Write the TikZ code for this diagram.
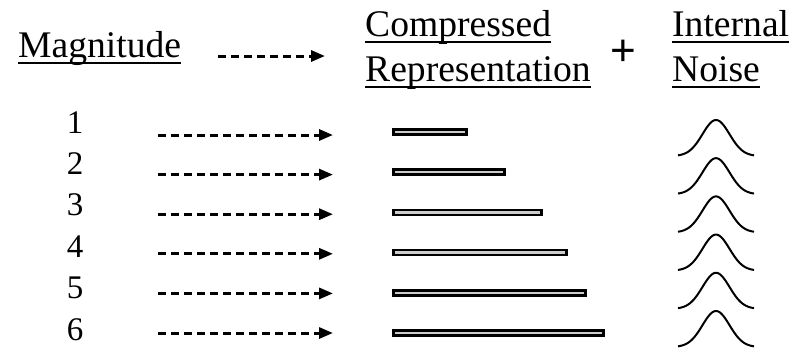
\documentclass[tikz,border=0pt]{standalone}
\usepackage{fontspec}
\setmainfont{Liberation Serif}
\newfontfamily\plusfont{Liberation Sans}
\usetikzlibrary{calc,arrows.meta}
\begin{document}
\begin{tikzpicture}[x=1pt,y=-1pt,
 hdr/.style={inner sep=0pt, anchor=base west, font=\fontsize{37.6}{40}\selectfont},
 num/.style={inner sep=0pt, anchor=base, font=\fontsize{33}{35}\selectfont},
 uline/.style={line width=2.2pt},
 darrow/.style={line width=3pt, dash pattern=on 8pt off 5pt, -{Triangle[length=14pt,width=11pt]}},
 bar/.style={draw, line width=2.6pt, fill=gray!40},
 bell/.style={line width=2pt, line join=round}]
\useasboundingbox (0,0) rectangle (791,349);

% headers
\node[hdr] (mag) at (18,57) {Magnitude};
\node[hdr] (comp) at (365,36) {Compressed};
\node[hdr] (repr) at (365,81) {Representation};
\node[hdr] (intl) at (672,36) {Internal};
\node[hdr] (noise) at (672,81) {Noise};
\node[inner sep=0pt, font=\plusfont\fontsize{44}{46}\selectfont] (plus) at (623,53) {+};
\foreach \n in {mag,comp,repr,intl,noise}
  \draw[uline] ($(\n.base west)+(0,6)$) -- ($(\n.base east)+(0,6)$);

\coordinate (hs) at (218,56);
\coordinate (he) at (325,56);
\draw[darrow] (hs) -- (he);

% rows
\foreach \i/\L in {1/76,2/114,3/151,4/176,5/195,6/213}{
  \pgfmathsetmacro{\yd}{133+41.4*(\i-1)}
  \pgfmathsetmacro{\ya}{135+39.6*(\i-1)}
  \pgfmathsetmacro{\yb}{132+40.2*(\i-1)}
  \pgfmathsetmacro{\yg}{156+38.2*(\i-1)}
  \node[num] (d\i) at (75,\yd) {\i};
  \coordinate (as\i) at (158,\ya);
  \coordinate (ae\i) at (333,\ya);
  \draw[darrow] (as\i) -- (ae\i);
  \draw[bar] (393.3,\yb-2.5) rectangle (390.7+\L,\yb+2.5);
  \draw[bell] plot[domain=-38:38, samples=90, smooth] ({716+\x},{\yg-36*exp(-\x*\x/364.5)});
}
\end{tikzpicture}
\end{document}
